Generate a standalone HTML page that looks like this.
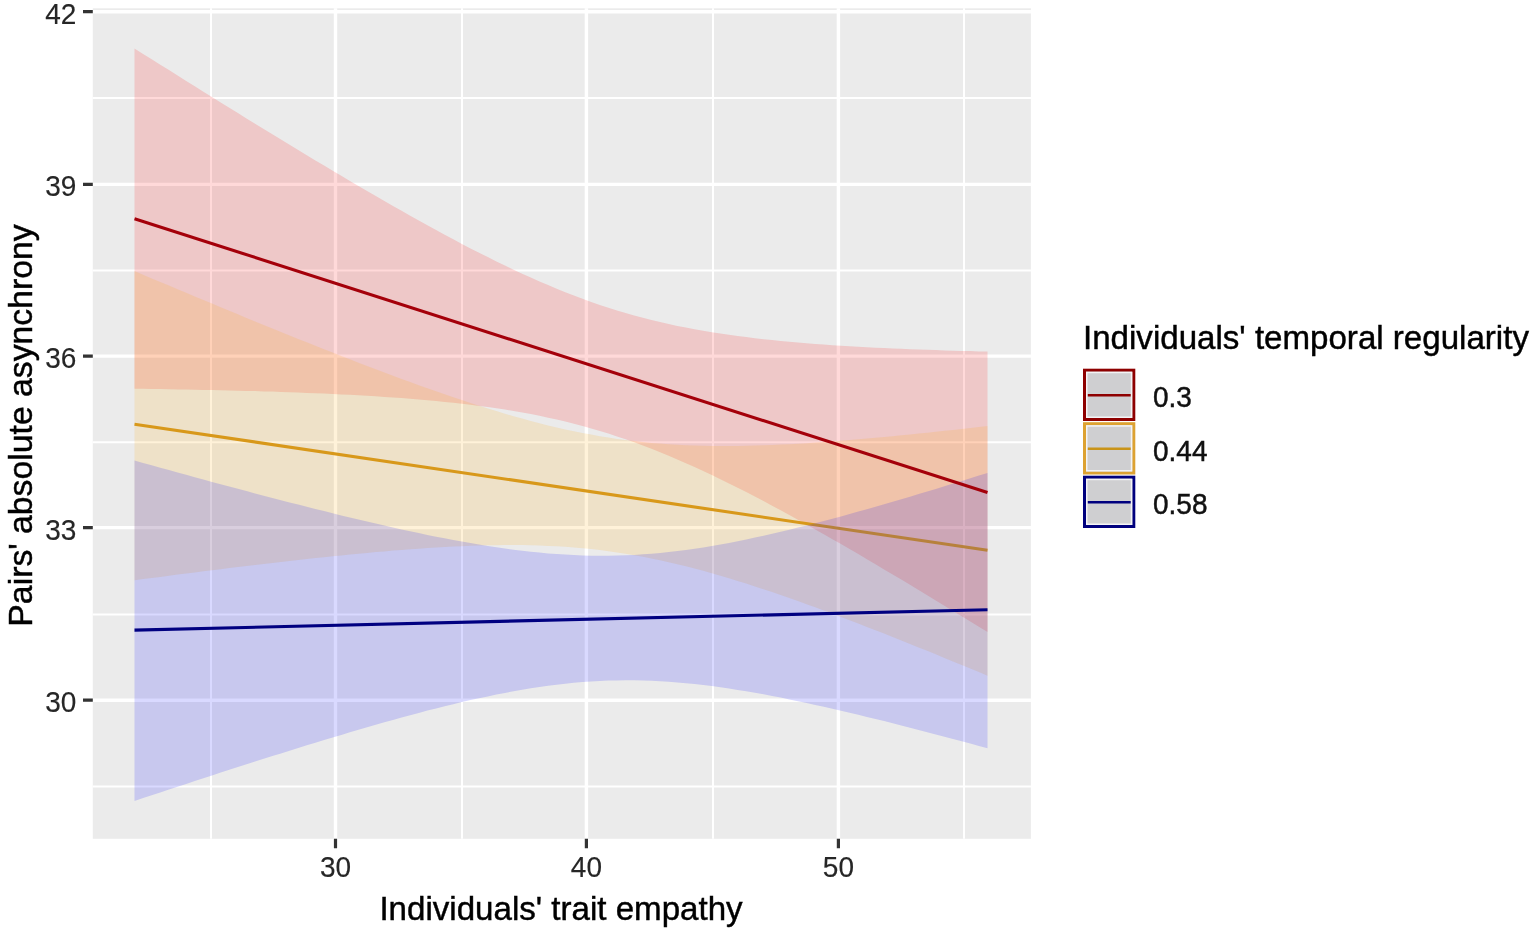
<!DOCTYPE html>
<html><head><meta charset="utf-8"><title>Plot</title>
<style>html,body{margin:0;padding:0;background:#fff;} svg{display:block;}</style></head>
<body><svg width="1535" height="930" viewBox="0 0 1535 930" font-family="'Liberation Sans', Arial, sans-serif">
<rect width="1535" height="930" fill="#fff"/>
<rect x="92.8" y="8.3" width="938.1" height="830.5" fill="#EBEBEB"/>
<path d="M92.8,97.9H1030.9M92.8,270.4H1030.9M92.8,442.2H1030.9M92.8,614.6H1030.9M92.8,786.5H1030.9M211.0,8.3V838.8M462.0,8.3V838.8M713.0,8.3V838.8M964.0,8.3V838.8" stroke="#fff" stroke-width="2.0" fill="none"/>
<path d="M92.8,11.7H1030.9M92.8,184.4H1030.9M92.8,356.1H1030.9M92.8,527.6H1030.9M92.8,700.2H1030.9M335.5,8.3V838.8M586.4,8.3V838.8M838.4,8.3V838.8" stroke="#fff" stroke-width="3.4" fill="none"/>
<path d="M134.5,48.4 L143.1,53.9 L151.7,59.3 L160.3,64.7 L169.0,70.1 L177.6,75.5 L186.2,80.9 L194.8,86.3 L203.4,91.7 L212.0,97.0 L220.7,102.4 L229.3,107.7 L237.9,113.0 L246.5,118.4 L255.1,123.7 L263.7,129.0 L272.4,134.2 L281.0,139.5 L289.6,144.7 L298.2,150.0 L306.8,155.2 L315.4,160.4 L324.1,165.5 L332.7,170.7 L341.3,175.8 L349.9,180.9 L358.5,186.0 L367.1,191.0 L375.8,196.0 L384.4,201.0 L393.0,205.9 L401.6,210.8 L410.2,215.7 L418.8,220.5 L427.4,225.3 L436.1,230.0 L444.7,234.7 L453.3,239.3 L461.9,243.9 L470.5,248.4 L479.1,252.8 L487.8,257.1 L496.4,261.4 L505.0,265.6 L513.6,269.7 L522.2,273.7 L530.8,277.6 L539.5,281.4 L548.1,285.1 L556.7,288.7 L565.3,292.2 L573.9,295.6 L582.5,298.8 L591.2,301.9 L599.8,304.9 L608.4,307.7 L617.0,310.4 L625.6,313.0 L634.2,315.4 L642.9,317.8 L651.5,320.0 L660.1,322.0 L668.7,324.0 L677.3,325.9 L685.9,327.6 L694.6,329.2 L703.2,330.8 L711.8,332.2 L720.4,333.6 L729.0,334.8 L737.6,336.0 L746.2,337.1 L754.9,338.2 L763.5,339.2 L772.1,340.1 L780.7,341.0 L789.3,341.8 L797.9,342.6 L806.6,343.3 L815.2,343.9 L823.8,344.6 L832.4,345.2 L841.0,345.7 L849.6,346.3 L858.3,346.8 L866.9,347.2 L875.5,347.7 L884.1,348.1 L892.7,348.5 L901.3,348.8 L910.0,349.2 L918.6,349.5 L927.2,349.8 L935.8,350.1 L944.4,350.4 L953.0,350.7 L961.7,350.9 L970.3,351.1 L978.9,351.4 L987.5,351.6 L987.5,632.1 L978.9,626.8 L970.3,621.5 L961.7,616.2 L953.0,610.9 L944.4,605.7 L935.8,600.4 L927.2,595.2 L918.6,590.0 L910.0,584.8 L901.3,579.6 L892.7,574.5 L884.1,569.4 L875.5,564.3 L866.9,559.2 L858.3,554.1 L849.6,549.1 L841.0,544.1 L832.4,539.2 L823.8,534.3 L815.2,529.4 L806.6,524.6 L797.9,519.8 L789.3,515.0 L780.7,510.3 L772.1,505.7 L763.5,501.1 L754.9,496.6 L746.2,492.1 L737.6,487.7 L729.0,483.4 L720.4,479.2 L711.8,475.0 L703.2,471.0 L694.6,467.0 L685.9,463.2 L677.3,459.4 L668.7,455.8 L660.1,452.2 L651.5,448.8 L642.9,445.5 L634.2,442.3 L625.6,439.3 L617.0,436.4 L608.4,433.6 L599.8,430.9 L591.2,428.4 L582.5,426.0 L573.9,423.7 L565.3,421.6 L556.7,419.6 L548.1,417.7 L539.5,415.8 L530.8,414.1 L522.2,412.5 L513.6,411.0 L505.0,409.6 L496.4,408.3 L487.8,407.1 L479.1,405.9 L470.5,404.8 L461.9,403.8 L453.3,402.8 L444.7,401.9 L436.1,401.0 L427.4,400.2 L418.8,399.5 L410.2,398.8 L401.6,398.1 L393.0,397.5 L384.4,396.9 L375.8,396.3 L367.1,395.8 L358.5,395.3 L349.9,394.8 L341.3,394.4 L332.7,394.0 L324.1,393.6 L315.4,393.2 L306.8,392.9 L298.2,392.5 L289.6,392.2 L281.0,391.9 L272.4,391.6 L263.7,391.4 L255.1,391.1 L246.5,390.9 L237.9,390.7 L229.3,390.4 L220.7,390.2 L212.0,390.0 L203.4,389.9 L194.8,389.7 L186.2,389.5 L177.6,389.4 L169.0,389.2 L160.3,389.1 L151.7,388.9 L143.1,388.8 L134.5,388.7 Z" fill="rgba(255,0,0,0.15)"/>
<path d="M134.5,271.1 L143.1,274.7 L151.7,278.4 L160.3,282.0 L169.0,285.6 L177.6,289.2 L186.2,292.8 L194.8,296.4 L203.4,300.0 L212.0,303.6 L220.7,307.2 L229.3,310.8 L237.9,314.3 L246.5,317.9 L255.1,321.4 L263.7,324.9 L272.4,328.4 L281.0,331.9 L289.6,335.4 L298.2,338.9 L306.8,342.3 L315.4,345.8 L324.1,349.2 L332.7,352.6 L341.3,356.0 L349.9,359.3 L358.5,362.7 L367.1,366.0 L375.8,369.2 L384.4,372.5 L393.0,375.7 L401.6,378.9 L410.2,382.1 L418.8,385.2 L427.4,388.3 L436.1,391.3 L444.7,394.3 L453.3,397.2 L461.9,400.1 L470.5,403.0 L479.1,405.8 L487.8,408.5 L496.4,411.1 L505.0,413.7 L513.6,416.2 L522.2,418.6 L530.8,421.0 L539.5,423.2 L548.1,425.4 L556.7,427.4 L565.3,429.4 L573.9,431.3 L582.5,433.0 L591.2,434.6 L599.8,436.2 L608.4,437.6 L617.0,438.9 L625.6,440.0 L634.2,441.1 L642.9,442.1 L651.5,442.9 L660.1,443.6 L668.7,444.3 L677.3,444.8 L685.9,445.2 L694.6,445.5 L703.2,445.8 L711.8,445.9 L720.4,446.0 L729.0,446.0 L737.6,445.9 L746.2,445.8 L754.9,445.6 L763.5,445.3 L772.1,445.0 L780.7,444.6 L789.3,444.2 L797.9,443.7 L806.6,443.2 L815.2,442.6 L823.8,442.0 L832.4,441.4 L841.0,440.7 L849.6,440.0 L858.3,439.3 L866.9,438.6 L875.5,437.8 L884.1,437.0 L892.7,436.2 L901.3,435.3 L910.0,434.5 L918.6,433.6 L927.2,432.7 L935.8,431.8 L944.4,430.8 L953.0,429.9 L961.7,428.9 L970.3,428.0 L978.9,427.0 L987.5,426.0 L987.5,675.7 L978.9,672.1 L970.3,668.5 L961.7,664.9 L953.0,661.4 L944.4,657.9 L935.8,654.3 L927.2,650.8 L918.6,647.4 L910.0,643.9 L901.3,640.5 L892.7,637.0 L884.1,633.6 L875.5,630.2 L866.9,626.9 L858.3,623.5 L849.6,620.2 L841.0,617.0 L832.4,613.7 L823.8,610.5 L815.2,607.3 L806.6,604.2 L797.9,601.1 L789.3,598.1 L780.7,595.1 L772.1,592.1 L763.5,589.2 L754.9,586.4 L746.2,583.6 L737.6,580.9 L729.0,578.3 L720.4,575.7 L711.8,573.2 L703.2,570.8 L694.6,568.5 L685.9,566.3 L677.3,564.2 L668.7,562.2 L660.1,560.2 L651.5,558.4 L642.9,556.8 L634.2,555.2 L625.6,553.7 L617.0,552.4 L608.4,551.2 L599.8,550.1 L591.2,549.1 L582.5,548.2 L573.9,547.5 L565.3,546.8 L556.7,546.3 L548.1,545.9 L539.5,545.5 L530.8,545.3 L522.2,545.1 L513.6,545.1 L505.0,545.1 L496.4,545.2 L487.8,545.3 L479.1,545.6 L470.5,545.8 L461.9,546.2 L453.3,546.6 L444.7,547.0 L436.1,547.5 L427.4,548.1 L418.8,548.7 L410.2,549.3 L401.6,550.0 L393.0,550.6 L384.4,551.4 L375.8,552.1 L367.1,552.9 L358.5,553.7 L349.9,554.6 L341.3,555.4 L332.7,556.3 L324.1,557.2 L315.4,558.1 L306.8,559.0 L298.2,560.0 L289.6,561.0 L281.0,562.0 L272.4,562.9 L263.7,564.0 L255.1,565.0 L246.5,566.0 L237.9,567.1 L229.3,568.1 L220.7,569.2 L212.0,570.3 L203.4,571.3 L194.8,572.4 L186.2,573.5 L177.6,574.6 L169.0,575.8 L160.3,576.9 L151.7,578.0 L143.1,579.1 L134.5,580.3 Z" fill="rgba(255,165,0,0.15)"/>
<line x1="134.5" y1="424.2" x2="987.5" y2="550.3" stroke="#D8981A" stroke-width="3.1"/>
<path d="M134.5,460.5 L143.1,462.9 L151.7,465.3 L160.3,467.7 L169.0,470.1 L177.6,472.4 L186.2,474.8 L194.8,477.2 L203.4,479.5 L212.0,481.9 L220.7,484.2 L229.3,486.5 L237.9,488.8 L246.5,491.1 L255.1,493.4 L263.7,495.7 L272.4,497.9 L281.0,500.2 L289.6,502.4 L298.2,504.6 L306.8,506.8 L315.4,509.0 L324.1,511.1 L332.7,513.3 L341.3,515.4 L349.9,517.5 L358.5,519.5 L367.1,521.6 L375.8,523.6 L384.4,525.6 L393.0,527.5 L401.6,529.4 L410.2,531.3 L418.8,533.1 L427.4,534.9 L436.1,536.7 L444.7,538.3 L453.3,540.0 L461.9,541.6 L470.5,543.1 L479.1,544.6 L487.8,545.9 L496.4,547.3 L505.0,548.5 L513.6,549.7 L522.2,550.7 L530.8,551.7 L539.5,552.6 L548.1,553.4 L556.7,554.1 L565.3,554.6 L573.9,555.1 L582.5,555.4 L591.2,555.7 L599.8,555.7 L608.4,555.7 L617.0,555.6 L625.6,555.3 L634.2,554.9 L642.9,554.3 L651.5,553.7 L660.1,552.9 L668.7,552.0 L677.3,551.0 L685.9,549.9 L694.6,548.7 L703.2,547.4 L711.8,546.0 L720.4,544.5 L729.0,542.9 L737.6,541.2 L746.2,539.4 L754.9,537.6 L763.5,535.7 L772.1,533.8 L780.7,531.8 L789.3,529.7 L797.9,527.6 L806.6,525.4 L815.2,523.2 L823.8,521.0 L832.4,518.7 L841.0,516.4 L849.6,514.0 L858.3,511.6 L866.9,509.2 L875.5,506.7 L884.1,504.2 L892.7,501.7 L901.3,499.2 L910.0,496.7 L918.6,494.1 L927.2,491.5 L935.8,488.9 L944.4,486.2 L953.0,483.6 L961.7,480.9 L970.3,478.3 L978.9,475.6 L987.5,472.9 L987.5,748.3 L978.9,746.0 L970.3,743.6 L961.7,741.3 L953.0,739.0 L944.4,736.7 L935.8,734.4 L927.2,732.2 L918.6,729.9 L910.0,727.7 L901.3,725.5 L892.7,723.3 L884.1,721.1 L875.5,719.0 L866.9,716.9 L858.3,714.8 L849.6,712.7 L841.0,710.7 L832.4,708.7 L823.8,706.8 L815.2,704.9 L806.6,703.0 L797.9,701.2 L789.3,699.4 L780.7,697.6 L772.1,696.0 L763.5,694.3 L754.9,692.8 L746.2,691.3 L737.6,689.9 L729.0,688.6 L720.4,687.3 L711.8,686.1 L703.2,685.0 L694.6,684.1 L685.9,683.2 L677.3,682.4 L668.7,681.8 L660.1,681.2 L651.5,680.8 L642.9,680.5 L634.2,680.3 L625.6,680.3 L617.0,680.4 L608.4,680.6 L599.8,681.0 L591.2,681.5 L582.5,682.1 L573.9,682.8 L565.3,683.7 L556.7,684.7 L548.1,685.8 L539.5,687.0 L530.8,688.3 L522.2,689.8 L513.6,691.3 L505.0,692.9 L496.4,694.6 L487.8,696.4 L479.1,698.2 L470.5,700.1 L461.9,702.1 L453.3,704.2 L444.7,706.3 L436.1,708.4 L427.4,710.6 L418.8,712.9 L410.2,715.2 L401.6,717.5 L393.0,719.9 L384.4,722.3 L375.8,724.8 L367.1,727.3 L358.5,729.8 L349.9,732.3 L341.3,734.9 L332.7,737.4 L324.1,740.0 L315.4,742.7 L306.8,745.3 L298.2,748.0 L289.6,750.7 L281.0,753.4 L272.4,756.1 L263.7,758.8 L255.1,761.5 L246.5,764.3 L237.9,767.1 L229.3,769.8 L220.7,772.6 L212.0,775.4 L203.4,778.2 L194.8,781.1 L186.2,783.9 L177.6,786.7 L169.0,789.6 L160.3,792.4 L151.7,795.3 L143.1,798.1 L134.5,801.0 Z" fill="rgba(0,0,255,0.15)"/>
<line x1="134.5" y1="630.1" x2="987.5" y2="609.7" stroke="#000080" stroke-width="3.1"/>
<line x1="134.5" y1="218.7" x2="987.5" y2="492.6" stroke="#A4000A" stroke-width="3.1"/>
<path d="M83,11.7H92.8M83,184.4H92.8M83,356.1H92.8M83,527.6H92.8M83,700.2H92.8M335.5,838.8V848.3M586.4,838.8V848.3M838.4,838.8V848.3" stroke="#333" stroke-width="3.2" fill="none"/>
<text transform="translate(76.30,23.60) scale(1,1.03)" text-anchor="end" font-size="28" fill="#262626" stroke="#262626" stroke-width="0.15">42</text>
<text transform="translate(76.30,196.30) scale(1,1.03)" text-anchor="end" font-size="28" fill="#262626" stroke="#262626" stroke-width="0.15">39</text>
<text transform="translate(76.30,368.00) scale(1,1.03)" text-anchor="end" font-size="28" fill="#262626" stroke="#262626" stroke-width="0.15">36</text>
<text transform="translate(76.30,539.50) scale(1,1.03)" text-anchor="end" font-size="28" fill="#262626" stroke="#262626" stroke-width="0.15">33</text>
<text transform="translate(76.30,712.10) scale(1,1.03)" text-anchor="end" font-size="28" fill="#262626" stroke="#262626" stroke-width="0.15">30</text>
<text transform="translate(335.50,877.40) scale(1,1.03)" text-anchor="middle" font-size="28" fill="#262626" stroke="#262626" stroke-width="0.15">30</text>
<text transform="translate(586.40,877.40) scale(1,1.03)" text-anchor="middle" font-size="28" fill="#262626" stroke="#262626" stroke-width="0.15">40</text>
<text transform="translate(838.40,877.40) scale(1,1.03)" text-anchor="middle" font-size="28" fill="#262626" stroke="#262626" stroke-width="0.15">50</text>
<text transform="translate(561.00,919.90) scale(1,1.03)" text-anchor="middle" font-size="33.1" fill="#000" stroke="#000" stroke-width="0.45">Individuals' trait empathy</text>
<text transform="translate(31.8,425.5) rotate(-90)" text-anchor="middle" font-size="33.75" fill="#000" stroke="#000" stroke-width="0.45">Pairs' absolute asynchrony</text>
<text transform="translate(1083.00,349.40) scale(1,1.03)" font-size="33.1" fill="#000" stroke="#000" stroke-width="0.45">Individuals' temporal regularity</text>
<rect x="1084.5" y="370.2" width="49.3" height="49.3" fill="#CFCFD1" stroke="#8E0000" stroke-width="3"/>
<rect x="1086.75" y="372.45" width="44.8" height="44.8" fill="none" stroke="#F4F4F6" stroke-width="1.5"/>
<line x1="1087.8" y1="395.2" x2="1130.7" y2="395.2" stroke="#8E0000" stroke-width="2.6"/>
<text transform="translate(1153.00,407.10) scale(1,1.03)" font-size="28" fill="#111" stroke="#111" stroke-width="0.45">0.3</text>
<rect x="1084.5" y="423.7" width="49.3" height="49.3" fill="#CFCFD1" stroke="#DDA232" stroke-width="3"/>
<rect x="1086.75" y="425.95" width="44.8" height="44.8" fill="none" stroke="#F4F4F6" stroke-width="1.5"/>
<line x1="1087.8" y1="448.7" x2="1130.7" y2="448.7" stroke="#C99419" stroke-width="2.6"/>
<text transform="translate(1153.00,460.60) scale(1,1.03)" font-size="28" fill="#111" stroke="#111" stroke-width="0.45">0.44</text>
<rect x="1084.5" y="477.2" width="49.3" height="49.3" fill="#CFCFD1" stroke="#00007E" stroke-width="3"/>
<rect x="1086.75" y="479.45" width="44.8" height="44.8" fill="none" stroke="#F4F4F6" stroke-width="1.5"/>
<line x1="1087.8" y1="502.2" x2="1130.7" y2="502.2" stroke="#00007E" stroke-width="2.6"/>
<text transform="translate(1153.00,514.10) scale(1,1.03)" font-size="28" fill="#111" stroke="#111" stroke-width="0.45">0.58</text>
</svg></body></html>
